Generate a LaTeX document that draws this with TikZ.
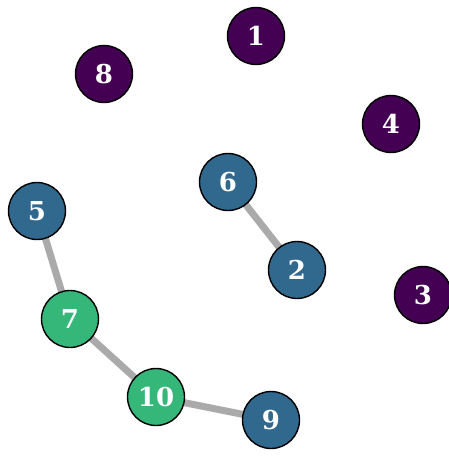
\documentclass[tikz,border=0pt]{standalone}
\usepackage{fontspec}
\setmainfont{DejaVu Serif}
\usetikzlibrary{backgrounds}
\definecolor{vpurple}{HTML}{440154}
\definecolor{vblue}{HTML}{31688E}
\definecolor{vgreen}{HTML}{35B779}
\definecolor{edgegray}{HTML}{AAAAAA}
\tikzset{
	vertex/.style={shape=circle,draw=black,line width=1.4pt,minimum size=57pt,inner sep=0pt,
		text=white,font=\fontsize{26}{26}\selectfont\bfseries},
	link/.style={-, draw=edgegray, line width=7pt}
}
\begin{document}
\begin{tikzpicture}[x=1pt,y=-1pt]
	\useasboundingbox (0,0) rectangle (448,458);
	
	\node[vertex,fill=vpurple] (n1) at (256, 36)   {1};
	\node[vertex,fill=vpurple] (n8) at (104, 74)   {8};
	\node[vertex,fill=vpurple] (n4) at (391, 124)  {4};
	\node[vertex,fill=vblue]   (n6) at (228, 182)  {6};
	\node[vertex,fill=vblue]   (n5) at (37, 211)   {5};
	\node[vertex,fill=vblue]   (n2) at (297, 270)  {2};
	\node[vertex,fill=vpurple] (n3) at (423, 295)  {3};
	\node[vertex,fill=vgreen]  (n7) at (70, 319)   {7};
	\node[vertex,fill=vgreen]  (n10) at (156, 397) {10};
	\node[vertex,fill=vblue]   (n9) at (271, 420)  {9};
	
	\begin{scope}[on background layer]
	\path[link] (n6.center) edge (n2.center);
	\path[link] (n5.center) edge (n7.center);
	\path[link] (n7.center) edge (n10.center);
	\path[link] (n10.center) edge (n9.center);
	\end{scope}

\end{tikzpicture}
\end{document}
